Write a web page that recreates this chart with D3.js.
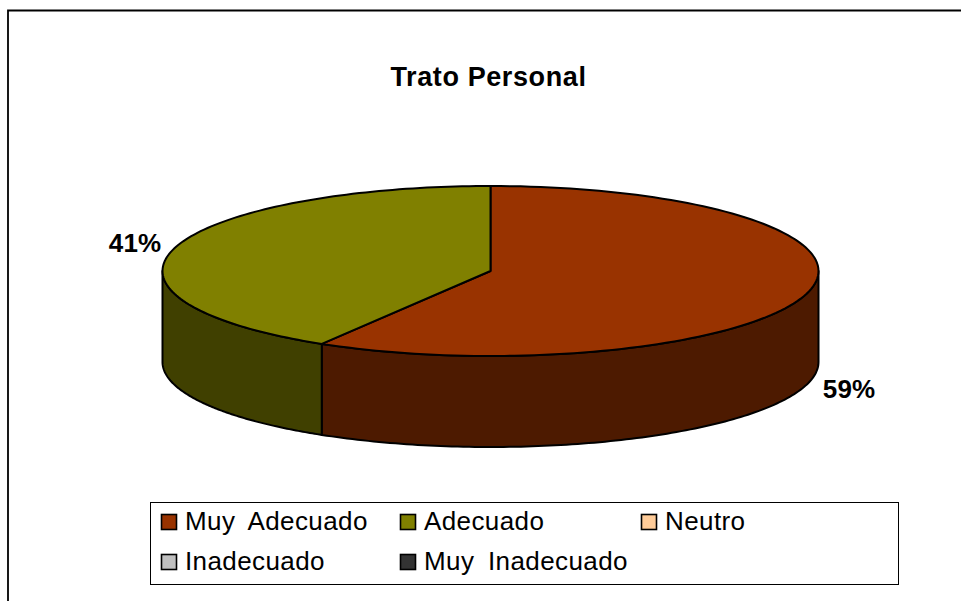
<!DOCTYPE html>
<html><head><meta charset="utf-8">
<script src="https://cdnjs.cloudflare.com/ajax/libs/d3/7.8.5/d3.min.js"></script>
<style>html,body{margin:0;padding:0;background:#fff;overflow:hidden}svg{display:block}text{font-family:"Liberation Sans",Arial,sans-serif;fill:#000}</style>
</head><body><svg id="c" width="961" height="601"></svg>
<script>
const categories = ["Muy Adecuado","Adecuado","Neutro","Inadecuado","Muy Inadecuado"];
const values = [58.6,41.4,0,0,0];
const topColors = ["#993300","#808000","#FFCC99","#C0C0C0","#333333"];
const sideColors = ["#4D1A00","#404000","#806650","#606060","#1A1A1A"];
const titleText = "Trato Personal";

const svg = d3.select("#c");
const cx=490.5, cy=271, rx=328, ry=85, depth=91;

svg.append("path").attr("d","M8,601V10.5H961").attr("fill","none").attr("stroke","#000").attr("stroke-width",1.8);
svg.append("text").attr("x",488.5).attr("y",86).attr("text-anchor","middle")
  .attr("font-size",27).attr("font-weight","bold").attr("letter-spacing",0.6).text(titleText);

const pie = d3.pie().sort(null).value(d=>d);
const arcs = pie(values);
const px = a => cx + rx*Math.sin(a), py = a => cy - ry*Math.cos(a);
const line = d3.line();
const sample = (a0,a1) => d3.range(0,121).map(i=>a0+(a1-a0)*i/120);
const pt = (a,dy=0) => [px(a),py(a)+dy];

// visible front walls
const g = svg.append("g").attr("stroke","#000").attr("stroke-width",2).attr("stroke-linejoin","round");
arcs.forEach((d,i)=>{
  const a0=Math.max(d.startAngle,Math.PI/2), a1=Math.min(d.endAngle,3*Math.PI/2);
  if(a1<=a0) return;
  const s=sample(a0,a1);
  const pts=s.map(a=>pt(a)).concat(s.slice().reverse().map(a=>pt(a,depth)));
  g.append("path").attr("d",line(pts)+"Z").attr("fill",sideColors[i]);
});
// top faces
arcs.forEach((d,i)=>{
  if(d.endAngle<=d.startAngle) return;
  const pts=[[cx,cy]].concat(sample(d.startAngle,d.endAngle).map(a=>pt(a)));
  g.append("path").attr("d",line(pts)+"Z").attr("fill",topColors[i]);
});

// data labels
const fmt=d3.format(".0f");
const labelPos=[[849,398],[135,252]];
arcs.forEach((d,i)=>{
  if(d.value>0) svg.append("text").attr("x",labelPos[i][0]).attr("y",labelPos[i][1]).attr("text-anchor","middle")
    .attr("font-size",26).attr("font-weight","bold").attr("letter-spacing",0.1).text(fmt(d.value)+"%");
});

// legend
svg.append("rect").attr("x",150.5).attr("y",502.5).attr("width",748).attr("height",82).attr("fill","#fff").attr("stroke","#000").attr("stroke-width",1);
const colX=[161,400,641], rowY=[522,562];
const lay=[[0,0],[1,0],[2,0],[0,1],[1,1]];
categories.forEach((c,i)=>{
  const [k,r]=lay[i];
  svg.append("rect").attr("x",colX[k]+0.5).attr("y",rowY[r]-7.5).attr("width",15).attr("height",15)
    .attr("fill",topColors[i]).attr("stroke","#000").attr("stroke-width",1.6);
  svg.append("text").attr("x",colX[k]+24).attr("y",rowY[r]+8).attr("font-size",26).attr("letter-spacing",0.4).attr("word-spacing",6).text(c);
});
</script></body></html>
